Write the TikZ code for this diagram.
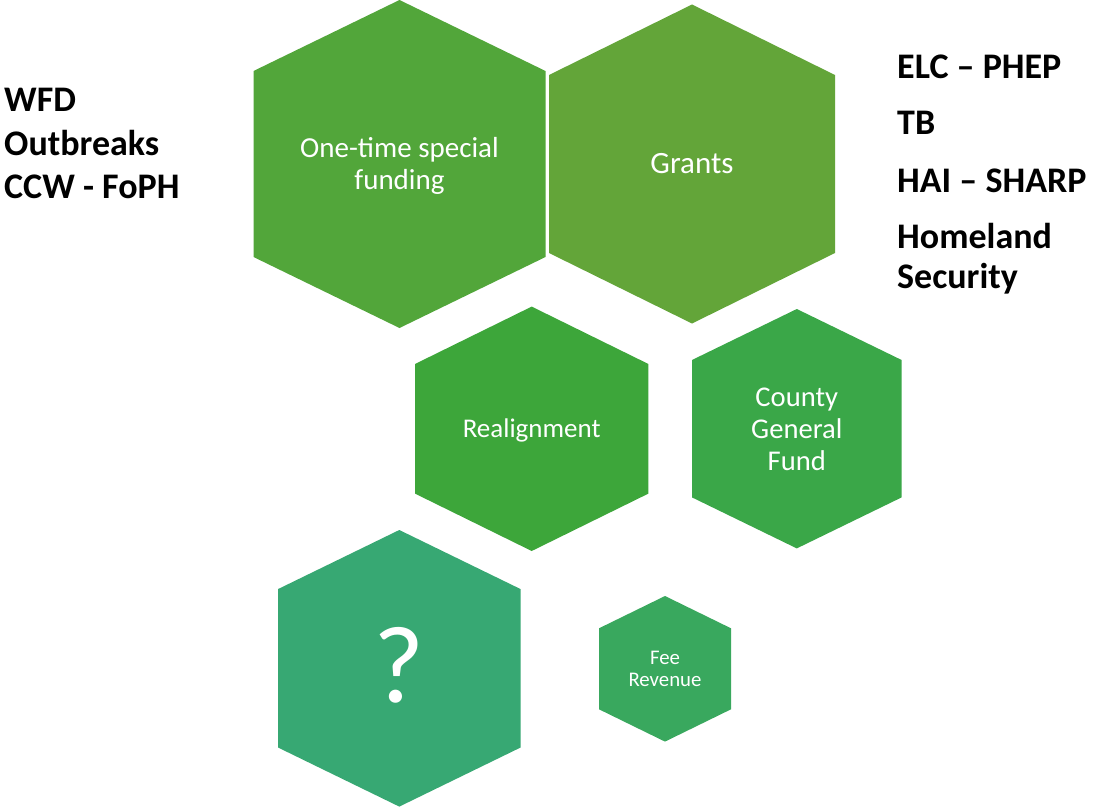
\documentclass[tikz,border=0pt]{standalone}
\usepackage{fontspec}
\setmainfont{Carlito}
\definecolor{hexA}{HTML}{52A63A}
\definecolor{hexB}{HTML}{63A539}
\definecolor{hexC}{HTML}{3DA63A}
\definecolor{hexD}{HTML}{3AA748}
\definecolor{hexE}{HTML}{37A873}
\definecolor{hexF}{HTML}{39A85E}
% \hexfill{cx}{cy}{half width}{half height}{half side}{colour}
\newcommand{\hexfill}[6]{%
  \fill[#6] (#1,#2-#4) -- (#1+#3,#2-#5) -- (#1+#3,#2+#5) -- (#1,#2+#4)
     -- (#1-#3,#2+#5) -- (#1-#3,#2-#5) -- cycle;}
\tikzset{
  hexlabel/.style={text=white, align=center, inner sep=0pt},
  sidetext/.style={anchor=base west, inner sep=0pt, font=\bfseries\fontsize{36bp}{43bp}\selectfont}
}
\begin{document}
\begin{tikzpicture}[x=1bp,y=-1bp]
\useasboundingbox[fill=white] (0,0) rectangle (1094,807);
% hexagons
\hexfill{399.5}{164}{146}{164}{93}{hexA}
\hexfill{692}{164}{143}{159.5}{89}{hexB}
\hexfill{531.7}{428.8}{116.7}{122.2}{64.8}{hexC}
\hexfill{796.8}{428.7}{104.8}{119.7}{68.7}{hexD}
\hexfill{399.3}{668.3}{121.3}{138.3}{79.2}{hexE}
\hexfill{665}{668.8}{66}{72.8}{40.5}{hexF}
% labels
\node[hexlabel, font=\fontsize{29bp}{32bp}\selectfont] (onetime) at (399.5,165.5) {One-time special\\funding};
\node[hexlabel, font=\fontsize{31bp}{34bp}\selectfont] (grants) at (692,164) {Grants};
\node[hexlabel, font=\fontsize{27bp}{31bp}\selectfont] (realign) at (531.7,430) {Realignment};
\node[hexlabel, font=\fontsize{28.6bp}{32bp}\selectfont] (county) at (796.8,429) {County\\General\\Fund};
\node[hexlabel, font=\fontsize{110bp}{112bp}\selectfont] (unknown) at (399.3,665) {?};
\node[hexlabel, font=\fontsize{20.8bp}{22bp}\selectfont] (fee) at (665,668.5) {Fee\\Revenue};
% left list
\node[sidetext] (l1) at (4,111) {WFD};
\node[sidetext] (l2) at (4,155.5) {Outbreaks};
\node[sidetext] (l3) at (4,198.5) {CCW - FoPH};
% right list
\node[sidetext] (r1) at (897,78.5) {ELC – PHEP};
\node[sidetext] (r2) at (897,134.5) {TB};
\node[sidetext] (r3) at (897,192) {HAI – SHARP};
\node[sidetext] (r4) at (897,248.5) {Homeland};
\node[sidetext] (r5) at (897,288) {Security};
\end{tikzpicture}
\end{document}
